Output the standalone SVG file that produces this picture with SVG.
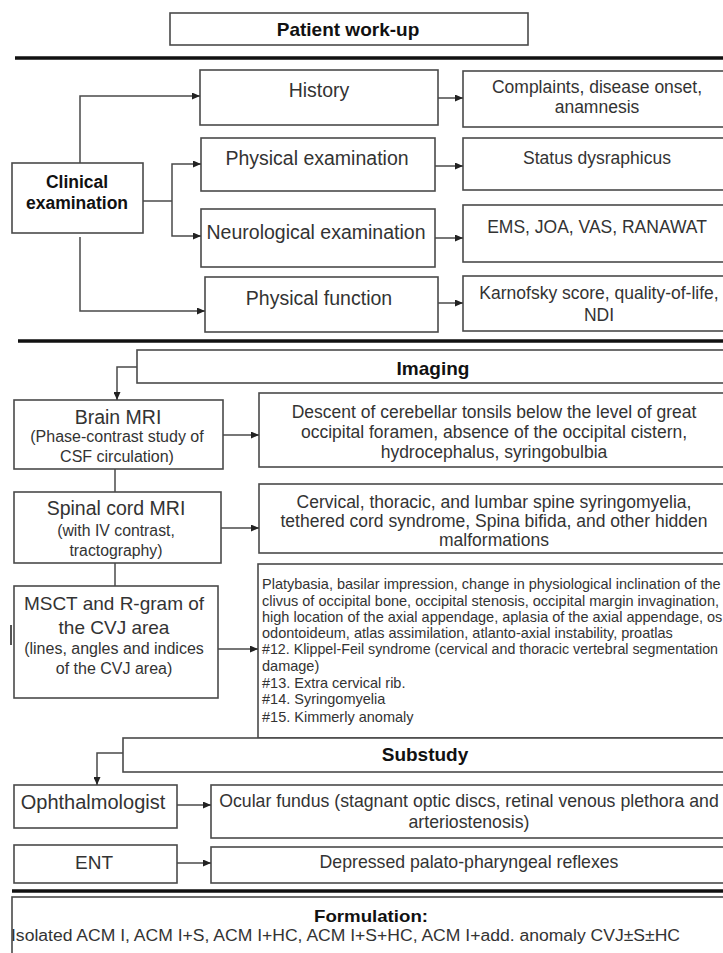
<svg xmlns="http://www.w3.org/2000/svg" width="723" height="953" viewBox="0 0 723 953">
<style>
.box{fill:#fff;stroke:#4a4a4a;stroke-width:1.6}
.t{font-family:"Liberation Sans",Arial,sans-serif;fill:#333;text-anchor:middle}
.s{text-anchor:start}
.b{font-weight:bold;fill:#111}
.conn{fill:none;stroke:#4a4a4a;stroke-width:1.5}
.arr{marker-end:url(#ah)}
.thick{stroke:#111;stroke-width:3.5}
</style>
<defs>
<marker id="ah" markerWidth="8" markerHeight="7" refX="8" refY="3.5" orient="auto" markerUnits="userSpaceOnUse">
<path d="M0,0 L8,3.5 L0,7 z" fill="#222"/>
</marker>
</defs>
<rect width="723" height="953" fill="#fff"/>

<g id="separators">
<line class="thick" x1="15" y1="58" x2="723" y2="58"/>
<line class="thick" x1="18" y1="341" x2="723" y2="341"/>
<line class="thick" x1="12" y1="891" x2="723" y2="891"/>
</g>

<g id="patient-workup">
<rect class="box" x="170" y="13" width="358" height="32"/>
<text class="t b" x="348" y="36" font-size="19">Patient work-up</text>
</g>

<g id="clinical">
<rect class="box" x="12" y="163" width="131" height="70"/>
<text class="t b" x="77" y="188" font-size="17.5">Clinical</text>
<text class="t b" x="77" y="209" font-size="17.5">examination</text>
</g>

<g id="history">
<rect class="box" x="200" y="70" width="238" height="55"/>
<text class="t" x="319" y="97" font-size="19.5">History</text>
</g>
<g id="physical-exam">
<rect class="box" x="201" y="138" width="234" height="53"/>
<text class="t" x="317" y="165" font-size="19.5">Physical examination</text>
</g>
<g id="neuro-exam">
<rect class="box" x="201" y="209" width="234" height="58"/>
<text class="t" x="316" y="239" font-size="19.5">Neurological examination</text>
</g>
<g id="physical-function">
<rect class="box" x="205" y="277" width="233" height="55"/>
<text class="t" x="319" y="305" font-size="19.5">Physical function</text>
</g>

<g id="complaints">
<rect class="box" x="463" y="71" width="275" height="56"/>
<text class="t" x="597" y="93" font-size="17.5">Complaints, disease onset,</text>
<text class="t" x="597" y="113" font-size="17.5">anamnesis</text>
</g>
<g id="status">
<rect class="box" x="463" y="138" width="275" height="52"/>
<text class="t" x="597" y="164" font-size="17.5">Status dysraphicus</text>
</g>
<g id="ems">
<rect class="box" x="463" y="205" width="275" height="57"/>
<text class="t" x="597" y="233" font-size="17.5">EMS, JOA, VAS, RANAWAT</text>
</g>
<g id="karnofsky">
<rect class="box" x="463" y="276" width="275" height="55"/>
<text class="t" x="599" y="299" font-size="17.5">Karnofsky score, quality-of-life,</text>
<text class="t" x="599" y="321" font-size="17.5">NDI</text>
</g>

<g id="imaging">
<rect class="box" x="137" y="350" width="600" height="33"/>
<text class="t b" x="433" y="375" font-size="19">Imaging</text>
</g>

<g id="brain-mri">
<rect class="box" x="14" y="400" width="209" height="69"/>
<text class="t" x="118" y="424" font-size="19.5">Brain MRI</text>
<text class="t" x="117" y="442" font-size="16">(Phase-contrast study of</text>
<text class="t" x="117" y="462" font-size="16">CSF circulation)</text>
</g>
<g id="descent">
<rect class="box" x="259" y="393" width="478" height="74"/>
<text class="t" x="494" y="418" font-size="17.5">Descent of cerebellar tonsils below the level of great</text>
<text class="t" x="494" y="438" font-size="17.5">occipital foramen, absence of the occipital cistern,</text>
<text class="t" x="494" y="458" font-size="17.5">hydrocephalus, syringobulbia</text>
</g>

<g id="spinal-mri">
<rect class="box" x="14" y="492" width="207" height="71"/>
<text class="t" x="116" y="515" font-size="19.5">Spinal cord MRI</text>
<text class="t" x="116" y="536" font-size="15.8">(with IV contrast,</text>
<text class="t" x="116" y="556" font-size="15.8">tractography)</text>
</g>
<g id="cervical">
<rect class="box" x="259" y="484" width="478" height="69"/>
<text class="t" x="494" y="508" font-size="17.5">Cervical, thoracic, and lumbar spine syringomyelia,</text>
<text class="t" x="494" y="527" font-size="17.5">tethered cord syndrome, Spina bifida, and other hidden</text>
<text class="t" x="494" y="546" font-size="17.5">malformations</text>
</g>

<g id="msct">
<rect class="box" x="14" y="586" width="204" height="112"/>
<text class="t" x="114" y="610" font-size="19">MSCT and R-gram of</text>
<text class="t" x="114" y="634" font-size="19">the CVJ area</text>
<text class="t" x="114" y="654" font-size="16">(lines, angles and indices</text>
<text class="t" x="114" y="674" font-size="16">of the CVJ area)</text>
</g>
<line x1="11" y1="625" x2="11" y2="645" stroke="#555" stroke-width="2"/>

<g id="anomalies">
<rect class="box" x="258" y="564" width="480" height="174"/>
<text class="t s" x="262" y="589" font-size="14.5">Platybasia, basilar impression, change in physiological inclination of the</text>
<text class="t s" x="262" y="605.5" font-size="14.5">clivus of occipital bone, occipital stenosis, occipital margin invagination,</text>
<text class="t s" x="262" y="622" font-size="14.5">high location of the axial appendage, aplasia of the axial appendage, os</text>
<text class="t s" x="262" y="638" font-size="14.5">odontoideum, atlas assimilation, atlanto-axial instability, proatlas</text>
<text class="t s" x="262" y="654" font-size="14" textLength="456" lengthAdjust="spacingAndGlyphs">#12. Klippel-Feil syndrome (cervical and thoracic vertebral segmentation</text>
<text class="t s" x="262" y="671" font-size="14.5">damage)</text>
<text class="t s" x="262" y="688" font-size="14.5">#13. Extra cervical rib.</text>
<text class="t s" x="262" y="704" font-size="14.5">#14. Syringomyelia</text>
<text class="t s" x="262" y="722" font-size="14.5">#15. Kimmerly anomaly</text>
</g>

<g id="substudy">
<rect class="box" x="123" y="738" width="614" height="34"/>
<text class="t b" x="425" y="761" font-size="19">Substudy</text>
</g>

<g id="ophthalmologist">
<rect class="box" x="14" y="785" width="163" height="43"/>
<text class="t" x="93" y="809" font-size="20">Ophthalmologist</text>
</g>
<g id="ocular">
<rect class="box" x="211" y="785" width="526" height="53"/>
<text class="t" x="469" y="807" font-size="17.7">Ocular fundus (stagnant optic discs, retinal venous plethora and</text>
<text class="t" x="469" y="828" font-size="17.7">arteriostenosis)</text>
</g>
<g id="ent">
<rect class="box" x="14" y="845" width="163" height="38"/>
<text class="t" x="94" y="869" font-size="19">ENT</text>
</g>
<g id="depressed">
<rect class="box" x="211" y="847" width="526" height="36"/>
<text class="t" x="469" y="868" font-size="17.7">Depressed palato-pharyngeal reflexes</text>
</g>

<g id="formulation">
<rect class="box" x="12" y="897" width="726" height="70"/>
<text class="t b" x="371" y="922" font-size="17" textLength="114" lengthAdjust="spacingAndGlyphs">Formulation:</text>
<text class="t s" x="11" y="941" font-size="16" textLength="669" lengthAdjust="spacingAndGlyphs">Isolated ACM I, ACM I+S, ACM I+HC, ACM I+S+HC, ACM I+add. anomaly CVJ±S±HC</text>
</g>

<g id="connectors">
<path class="conn arr" d="M80,163 V96 H200"/>
<path class="conn" d="M143,201 H172"/>
<path class="conn arr" d="M172,201 V164 H201"/>
<path class="conn arr" d="M172,201 V236 H201"/>
<path class="conn arr" d="M80,237 V311 H205"/>
<path class="conn arr" d="M438,98 H463"/>
<path class="conn arr" d="M435,166 H463"/>
<path class="conn arr" d="M435,238 H463"/>
<path class="conn arr" d="M438,303 H463"/>
<path class="conn arr" d="M137,367 H117 V400"/>
<path class="conn arr" d="M223,435 H259"/>
<path class="conn" d="M115,469 V492"/>
<path class="conn arr" d="M221,528 H259"/>
<path class="conn" d="M115,563 V586"/>
<path class="conn arr" d="M218,649 H258"/>
<path class="conn arr" d="M123,753 H97 V785"/>
<path class="conn arr" d="M177,805 H211"/>
<path class="conn arr" d="M177,863 H211"/>
</g>
</svg>
